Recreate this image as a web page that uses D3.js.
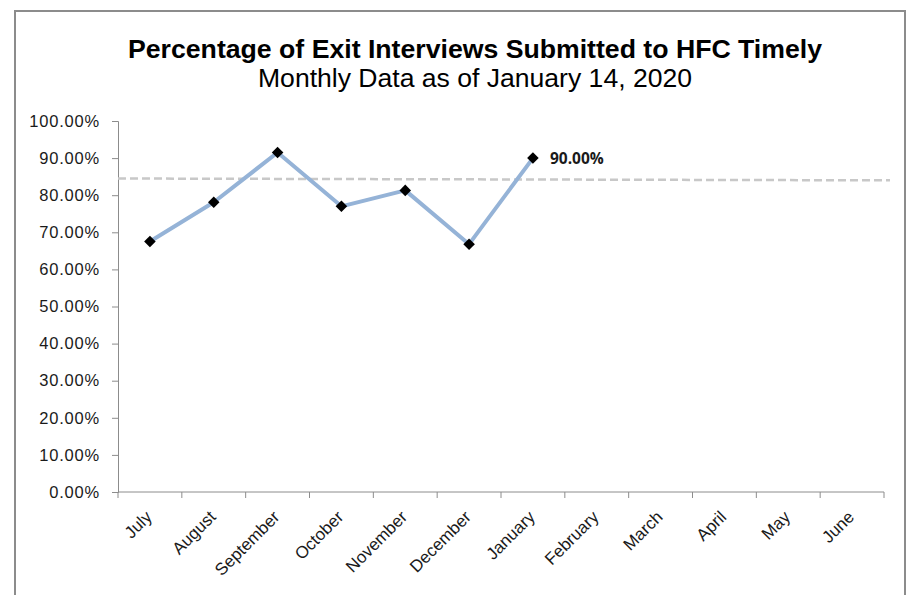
<!DOCTYPE html>
<html>
<head>
<meta charset="utf-8">
<script src="https://cdn.jsdelivr.net/npm/d3@7"></script>
<style>
  body { margin: 0; background: #fff; }
  svg { display: block; }
</style>
</head>
<body>
<div id="chart"></div>
<script>
// Chart data
const months = ["July", "August", "September", "October", "November", "December",
    "January", "February", "March", "April", "May", "June"];
const timelyPct = [67.5, 78.1, 91.5, 77.0, 81.3, 66.8, 90.0];
const goalLine = [84.5, 84.0];   // dashed reference line, start and end
const yTicks = [0, 10, 20, 30, 40, 50, 60, 70, 80, 90, 100];

const W = 911, H = 595;
const margin = { top: 121, right: 27, bottom: 103, left: 118 };
const width = W - margin.left - margin.right,
    height = H - margin.top - margin.bottom;

const svg = d3.select("#chart")
    .append("svg")
    .attr("width", W)
    .attr("height", H);

// Outer frame
svg.append("path")
    .attr("d", `M15,${H} V11 H905 V${H}`)
    .attr("fill", "none")
    .attr("stroke", "#8c8c8c")
    .attr("stroke-width", 2);

// Titles
svg.append("text")
    .attr("x", 475)
    .attr("y", 58)
    .attr("text-anchor", "middle")
    .attr("textLength", 694)
    .attr("lengthAdjust", "spacingAndGlyphs")
    .style("font-family", "'Liberation Sans', Arial, sans-serif")
    .style("font-size", "25px")
    .style("font-weight", "bold")
    .text("Percentage of Exit Interviews Submitted to HFC Timely");

svg.append("text")
    .attr("x", 475)
    .attr("y", 87)
    .attr("text-anchor", "middle")
    .attr("textLength", 434)
    .attr("lengthAdjust", "spacingAndGlyphs")
    .style("font-family", "'Liberation Sans', Arial, sans-serif")
    .style("font-size", "25px")
    .text("Monthly Data as of January 14, 2020");

const g = svg.append("g")
    .attr("transform", `translate(${margin.left},${margin.top})`);

const xScale = d3.scaleBand()
    .domain(months)
    .range([0, width]);

const yScale = d3.scaleLinear()
    .domain([0, 100])
    .range([height, 0]);

// Y axis
const yAxis = g.append("g")
    .call(d3.axisLeft(yScale)
        .tickValues(yTicks)
        .tickSize(6)
        .tickPadding(12)
        .tickFormat(d => d.toFixed(2) + "%"));
yAxis.selectAll("path, line").attr("stroke", "#8c8c8c");
yAxis.selectAll("text")
    .style("font-family", "'Liberation Sans', Arial, sans-serif")
    .style("font-size", "16.5px")
    .style("letter-spacing", "0.8px")
    .attr("fill", "#1a1a1a");

// X axis: ticks at band boundaries
const xAxisG = g.append("g")
    .attr("transform", `translate(0,${height})`);
xAxisG.append("line")
    .attr("x1", 0).attr("x2", width)
    .attr("stroke", "#8c8c8c");
xAxisG.selectAll(".xtick")
    .data(months.concat([null]))
    .enter()
    .append("line")
    .attr("class", "xtick")
    .attr("x1", (d, i) => i * xScale.step())
    .attr("x2", (d, i) => i * xScale.step())
    .attr("y1", 0)
    .attr("y2", 6)
    .attr("stroke", "#8c8c8c");
xAxisG.selectAll(".xlabel")
    .data(months)
    .enter()
    .append("text")
    .attr("class", "xlabel")
    .attr("transform", d => `translate(${xScale(d) + xScale.bandwidth() / 2 + 3},${26}) rotate(-45)`)
    .attr("text-anchor", "end")
    .style("font-family", "'Liberation Sans', Arial, sans-serif")
    .style("font-size", "17px")
    .attr("fill", "#1a1a1a")
    .text(d => d);

// Dashed reference line
g.append("line")
    .attr("x1", 0)
    .attr("x2", width + 6)
    .attr("y1", yScale(goalLine[0]))
    .attr("y2", yScale(goalLine[1]))
    .attr("stroke", "#c8c8c8")
    .attr("stroke-width", 2.5)
    .attr("stroke-dasharray", "8,4");

// Data line
const lineGenerator = d3.line()
    .x((d, i) => xScale(months[i]) + xScale.bandwidth() / 2)
    .y(d => yScale(d));

g.append("path")
    .datum(timelyPct)
    .attr("fill", "none")
    .attr("stroke", "#95b3d7")
    .attr("stroke-width", 4)
    .attr("stroke-linejoin", "round")
    .attr("d", lineGenerator);

// Diamond markers
g.selectAll(".marker")
    .data(timelyPct)
    .enter()
    .append("path")
    .attr("class", "marker")
    .attr("d", d3.symbol().type(d3.symbolDiamond2).size(85))
    .attr("transform", (d, i) => `translate(${xScale(months[i]) + xScale.bandwidth() / 2},${yScale(d)})`)
    .attr("fill", "#000");

// Label on the latest point
const last = timelyPct.length - 1;
g.append("text")
    .attr("x", xScale(months[last]) + xScale.bandwidth() / 2 + 17)
    .attr("y", yScale(timelyPct[last]) + 6)
    .style("font-family", "'Open Sans', 'Liberation Sans', sans-serif")
    .style("font-size", "15.5px")
    .style("font-weight", "bold")
    .attr("fill", "#1a1a1a")
    .text(timelyPct[last].toFixed(2) + "%");
</script>
</body>
</html>
